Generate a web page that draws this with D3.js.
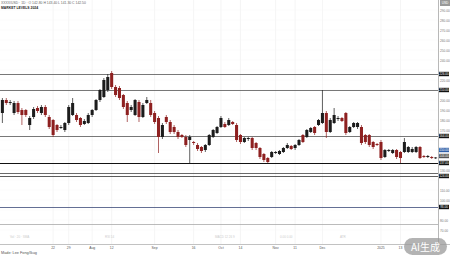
<!DOCTYPE html>
<html>
<head>
<meta charset="utf-8">
<script src="https://cdn.jsdelivr.net/npm/d3@7"></script>
<style>
  html, body { margin: 0; padding: 0; background: #fff; }
  svg { display: block; font-family: "Liberation Sans", Arial, sans-serif; }
</style>
</head>
<body>
<div id="chart"></div>
<script>
// daily candles
var opens = [187,200,197,187,197,190,190,175,183,192,187,193,183,180,175,172,170,177,185,185,182,176,177,185,190,200,203,210,227,213,212,205,197,190,185,198,183,197,
  197,187,182,163,183,178,173,168,165,163,160,158,155,153,150,155,163,167,173,176,175,178,175,165,158,161,162,157,152,146,142,143,147,146,148,152,154,152,155,
  165,163,168,173,175,177,187,168,177,181,182,187,168,173,173,173,165,165,158,156,158,143,149,147,150,148,148,148,148,148,153,144,143,143,142]
var closes = [200,197,198,197,188,185,185,182,191,189,193,185,173,165,170,173,177,193,197,180,175,179,185,190,200,210,220,223,213,205,202,193,185,193,200,183,195,200,
  185,178,163,175,178,168,168,163,163,155,163,157,151,149,155,165,170,173,182,173,180,176,160,158,162,162,152,152,143,140,138,148,148,149,152,155,151,155,160,
  158,170,172,167,180,187,168,180,185,182,179,167,173,177,177,157,158,155,153,155,142,150,150,150,143,142,158,153,151,153,142,143,144,142,142.5]
var highs = [202,202,200,199,199,192,191,184,193,194,195,195,185,181,176,175,178,195,202,187,183,181,187,191,201,211,222,226,229,215,214,206,199,195,201,200,197,203,
  200,189,184,177,185,180,175,170,166,165,165,159,157,154,156,166,171,174,184,178,182,179,177,166,163,163,163,158,153,147,143,149,149,150,153,157,155,156,161,
  166,171,173,174,181,210,189,182,192,184,183,188,174,178,178,175,166,166,159,157,160,151,151,151,151,149,162,154,153,154,154,145,145,144,143]
var lows = [177,195,195,185,186,175,183,170,181,187,185,183,171,163,168,171,168,175,184,178,173,175,176,183,189,198,202,208,211,203,200,191,178,188,184,178,182,196,
  183,176,147,161,176,166,166,161,162,153,137,155,149,147,148,154,162,166,172,172,174,175,158,156,157,159,150,150,141,138,137,142,146,145,147,151,150,150,154,
  157,162,167,165,174,176,162,167,176,179,178,165,167,172,171,155,156,153,151,154,140,142,148,146,141,137,147,147,147,147,141,142,142,141,141]

var priceTicks = [70,80,90,100,110,120,130,140,150,160,170,180,190,200,210,220,230,240,250,260,270,280,290]
var levels = [226, 210, 164, 137, 127, 124, 93, 76]
var levelColors = ["#555", "#555", "#555", "#111", "#444", "#333", "#3c4a78", "#aaa"]
var boxedLevels = [226, 210, 164, 137, 124, 93]
var lastPrice = 150
var prevPrice = 144

var dateIdx = [13, 17, 23, 28, 39, 49, 56, 61, 70, 75, 82, 97, 102]
var dateText = ["22", "29", "Aug", "12", "Sep", "16", "Oct", "14", "Nov", "11", "Dec", "2025", "13"]

var W = 450, H = 257
var plotRight = 438
var svg = d3.select("#chart").append("svg").attr("width", W).attr("height", H)

var N = opens.length
var x = d3.scaleBand().domain(d3.range(N)).range([0, plotRight]).padding(0.22)
var y = d3.scaleLinear().domain([60, 297]).range([240, 3])

// vertical grid
svg.selectAll("line.vgrid")
  .data(dateIdx)
  .enter()
  .append("line")
  .attr("x1", d => x(d) + x.bandwidth() / 2)
  .attr("x2", d => x(d) + x.bandwidth() / 2)
  .attr("y1", 0).attr("y2", 244)
  .attr("stroke", "#eeeeee").attr("stroke-width", 0.6)

// horizontal grid from the price ticks
svg.selectAll("line.hgrid")
  .data(priceTicks)
  .enter()
  .append("line")
  .attr("x1", 0).attr("x2", plotRight)
  .attr("y1", d => y(d)).attr("y2", d => y(d))
  .attr("stroke", "#f4f4f4").attr("stroke-width", 0.5)

// level lines
svg.selectAll("line.level")
  .data(levels)
  .enter()
  .append("line")
  .attr("x1", 0).attr("x2", plotRight)
  .attr("y1", d => Math.round(y(d)) + 0.5).attr("y2", d => Math.round(y(d)) + 0.5)
  .attr("stroke", (d, i) => levelColors[i])
  .attr("stroke-width", (d, i) => i == 3 ? 1.1 : 0.8)

// candles
var candles = svg.selectAll("g.candle")
  .data(d3.range(N))
  .enter()
  .append("g")
  .attr("class", "candle")

function col(i) { return closes[i] >= opens[i] ? "#1c1c1c" : "#8e2020" }

candles.append("line")
  .attr("x1", i => x(i) + x.bandwidth() / 2)
  .attr("x2", i => x(i) + x.bandwidth() / 2)
  .attr("y1", i => y(highs[i]))
  .attr("y2", i => y(lows[i]))
  .attr("stroke", col)
  .attr("stroke-width", 0.7)

candles.append("rect")
  .attr("x", i => x(i))
  .attr("width", x.bandwidth())
  .attr("y", i => y(Math.max(opens[i], closes[i])))
  .attr("height", i => Math.max(0.8, Math.abs(y(opens[i]) - y(closes[i]))))
  .attr("fill", col)

// right axis
svg.append("rect").attr("x", plotRight).attr("y", 0).attr("width", W - plotRight).attr("height", 244).attr("fill", "#fff")
svg.append("line")
  .attr("x1", plotRight + 0.5).attr("x2", plotRight + 0.5)
  .attr("y1", 0).attr("y2", 244)
  .attr("stroke", "#888").attr("stroke-width", 0.6)

var boxed = boxedLevels.concat([lastPrice, prevPrice])
var shownTicks = priceTicks.filter(t => boxed.every(b => Math.abs(b - t) > 4.5))
var yAxis = d3.axisRight(y).tickValues(shownTicks).tickSize(0).tickPadding(2).tickFormat(d3.format(".2f"))
var yg = svg.append("g").attr("transform", "translate(" + plotRight + ",0)").call(yAxis)
yg.select(".domain").remove()
yg.selectAll("text").attr("font-size", "3.2px").attr("fill", "#777")

// boxed level labels
function priceBox(v, fill) {
  svg.append("rect").attr("x", plotRight + 1).attr("y", y(v) - 2.2).attr("width", 10).attr("height", 4.4).attr("fill", fill)
  svg.append("text").attr("x", plotRight + 6).attr("y", y(v) + 1.1).attr("text-anchor", "middle")
    .attr("font-size", "3.1px").attr("fill", "#fff").text(d3.format(".2f")(v))
}
boxedLevels.forEach(v => priceBox(v, "#111"))
priceBox(lastPrice, "#2f5fa8")
priceBox(prevPrice, "#555")

// top right box
svg.append("rect").attr("x", 440).attr("y", 0).attr("width", 10).attr("height", 6).attr("fill", "#999")
svg.append("text").attr("x", 445).attr("y", 4).attr("text-anchor", "middle").attr("font-size", "3.2px").attr("fill", "#fff").text("USD")

// bottom axis
svg.append("line").attr("x1", 0).attr("x2", W).attr("y1", 244.5).attr("y2", 244.5).attr("stroke", "#999").attr("stroke-width", 0.6)
svg.selectAll("text.date")
  .data(dateIdx)
  .enter()
  .append("text")
  .attr("x", d => x(d) + x.bandwidth() / 2)
  .attr("y", 249)
  .attr("text-anchor", "middle")
  .attr("font-size", "3.4px")
  .attr("fill", "#555")
  .text((d, i) => dateText[i])

// faint indicator legends near the bottom
var faint = [[10, "Vol  ·  20  ·  SMA"], [105, "RSI 14"], [215, "MACD 12 26 9"], [280, "0.00  0.00"], [340, "ATR"]]
faint.forEach(function (f) {
  svg.append("text").attr("x", f[0]).attr("y", 238).attr("font-size", "3px").attr("fill", "#ccc").text(f[1])
})

// titles
svg.append("text").attr("x", 1).attr("y", 4).attr("font-size", "3.4px").attr("fill", "#666")
  .text("XXXX/USD · 1D · O 142.80 H 143.40 L 141.30 C 142.50")
svg.append("text").attr("x", 1).attr("y", 8.5).attr("font-size", "3.4px").attr("fill", "#222").attr("font-weight", "bold")
  .text("MARKET LEVELS 2024")

svg.append("text").attr("x", 1).attr("y", 254).attr("font-size", "3.8px").attr("fill", "#555")
  .text("Made: Lee Fong/Ikug")

// watermark
svg.append("rect").attr("x", 404).attr("y", 238).attr("width", 43).attr("height", 17).attr("rx", 8.5)
  .attr("fill", "#9a9a9a").attr("opacity", 0.75)
svg.append("text").attr("x", 425.5).attr("y", 250.5).attr("text-anchor", "middle")
  .attr("font-family", "Noto Sans CJK SC").attr("font-size", "10px").attr("fill", "#fff").text("AI生成")
</script>
</body>
</html>
